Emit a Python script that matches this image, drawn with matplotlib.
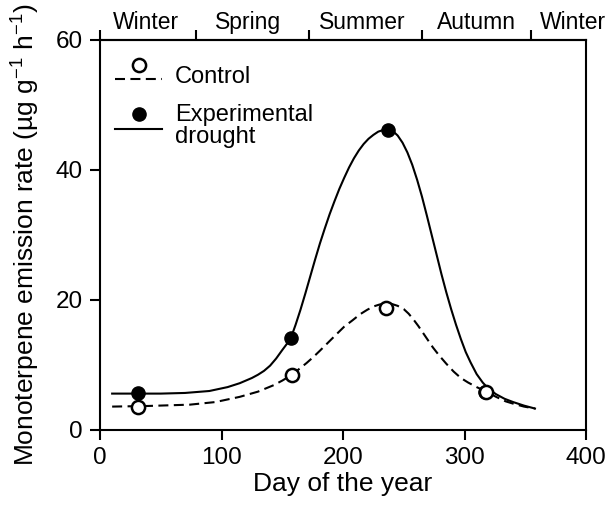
import matplotlib
matplotlib.use("Agg")
import matplotlib.pyplot as plt
from matplotlib.transforms import blended_transform_factory

plt.rcParams['font.family'] = ['Liberation Sans', 'DejaVu Sans']
plt.rcParams['mathtext.fontset'] = 'custom'
plt.rcParams['mathtext.rm'] = 'Liberation Sans'

# Measured points
control_days = [31, 158, 235, 318]
control_vals = [3.6, 8.5, 18.7, 5.9]
drought_days = [31, 157, 237, 317]
drought_vals = [5.7, 14.1, 46.1, 5.9]

# Fitted curves
drought_curve_days = [10, 30, 50, 70, 90, 105, 115, 125, 130, 135, 140, 145, 150, 154, 157,
                      161, 165, 169, 173, 177, 181, 185, 189, 193, 197, 201, 205, 209, 213,
                      217, 221, 225, 229, 233, 237, 241, 245, 249, 253, 257, 261, 265, 269,
                      273, 277, 281, 285, 289, 293, 297, 301, 305, 310, 315, 320, 326, 333,
                      340, 349, 358]
drought_curve_vals = [5.6, 5.6, 5.6, 5.7, 6.0, 6.6, 7.2, 8.0, 8.5, 9.1, 9.9, 11.0, 12.3, 13.3, 14.1,
                      16.2, 18.5, 21.0, 23.6, 26.2, 28.7, 31.0, 33.2, 35.2, 37.1, 38.8, 40.4, 41.8, 43.0,
                      44.0, 44.8, 45.4, 45.9, 46.15, 46.25, 46.0, 45.3, 44.2, 42.7, 40.8, 38.5, 35.9, 33.0,
                      30.0, 27.0, 24.0, 21.2, 18.6, 16.2, 14.0, 12.0, 10.4, 8.6, 7.3, 6.3, 5.5, 4.8,
                      4.3, 3.75, 3.3]
control_curve_days = [10, 40, 74, 95, 115, 130, 143, 150, 158, 164, 170, 176, 181, 188, 195,
                      201, 208, 214, 220, 225, 230, 235, 240, 245, 250, 254, 258, 262, 266,
                      270, 274, 279, 285, 291, 297, 303, 310, 318, 326, 334, 341, 349, 358]
control_curve_vals = [3.6, 3.7, 3.9, 4.3, 5.1, 5.9, 6.9, 7.6, 8.5, 9.4, 10.3, 11.3, 12.2, 13.5, 14.8,
                      15.9, 16.9, 17.8, 18.5, 19.0, 19.3, 19.45, 19.4, 19.1, 18.6, 17.9, 17.0, 16.0, 14.9,
                      13.8, 12.7, 11.5, 10.2, 9.0, 8.0, 7.3, 6.6, 5.9, 5.1, 4.4, 4.0, 3.6, 3.3]

season_names = ["Winter", "Spring", "Summer", "Autumn", "Winter"]
season_bounds = [0, 79, 172, 265, 355]
season_label_x = [38, 122, 216, 310, 389]

x_ticks = [0, 100, 200, 300, 400]
y_ticks = [0, 20, 40, 60]

fig = plt.figure(figsize=(6.14, 5.08), dpi=100)
ax = fig.add_axes([100/614, 1-430/508, 486/614, 390/508])

lw = 1.5
ax.plot(control_curve_days, control_curve_vals, color='black', lw=lw,
        linestyle=(0, (4.8, 2.6)), zorder=2)
ax.plot(drought_curve_days, drought_curve_vals, color='black', lw=lw, zorder=2)
ax.plot(drought_days, drought_vals, 'o', color='black', ms=9.5, zorder=3)
ax.plot(control_days, control_vals, 'o', mfc='white', mec='black', mew=1.8, ms=9.5, zorder=4)

ax.set_xlim(0, 400)
ax.set_ylim(0, 60)
ax.set_xticks(x_ticks)
ax.set_yticks(y_ticks)
ax.tick_params(direction='out', length=7.2, width=1.5, labelsize=17.5, pad=5)
for sp in ax.spines.values():
    sp.set_linewidth(1.5)

ax.set_xlabel("Day of the year", fontsize=19, labelpad=2)
ax.set_ylabel(r"Monoterpene emission rate (µg g$^{\mathregular{-1}}$ h$^{\mathregular{-1}}$)",
              fontsize=19, labelpad=11)

# top season axis
top = ax.secondary_xaxis('top')
top.set_xticks(season_bounds)
top.set_xticklabels([])
top.tick_params(direction='out', length=7, width=1.5)
top.spines['top'].set_linewidth(1.5)
tr = blended_transform_factory(ax.transData, ax.transAxes)
for name, xx in zip(season_names, season_label_x):
    ax.text(xx, 1.045, name, transform=tr, ha='center', va='center', fontsize=16.5, clip_on=False)

# legend (drawn manually)
ta = ax.transAxes
ax.plot([0.031, 0.128], [0.899, 0.899], color='black', lw=lw, linestyle=(0, (4.8, 2.6)), transform=ta)
ax.plot([0.080], [0.936], 'o', mfc='white', mec='black', mew=1.8, ms=9.5, transform=ta)
ax.text(0.154, 0.905, "Control", transform=ta, ha='left', va='center', fontsize=17)
ax.plot([0.031, 0.128], [0.771, 0.771], color='black', lw=lw, transform=ta)
ax.plot([0.080], [0.810], 'o', color='black', ms=9.5, transform=ta)
ax.text(0.154, 0.779, "Experimental\ndrought", transform=ta, ha='left', va='center',
        fontsize=17, linespacing=1.0)

fig.savefig("out.png", dpi=100)
